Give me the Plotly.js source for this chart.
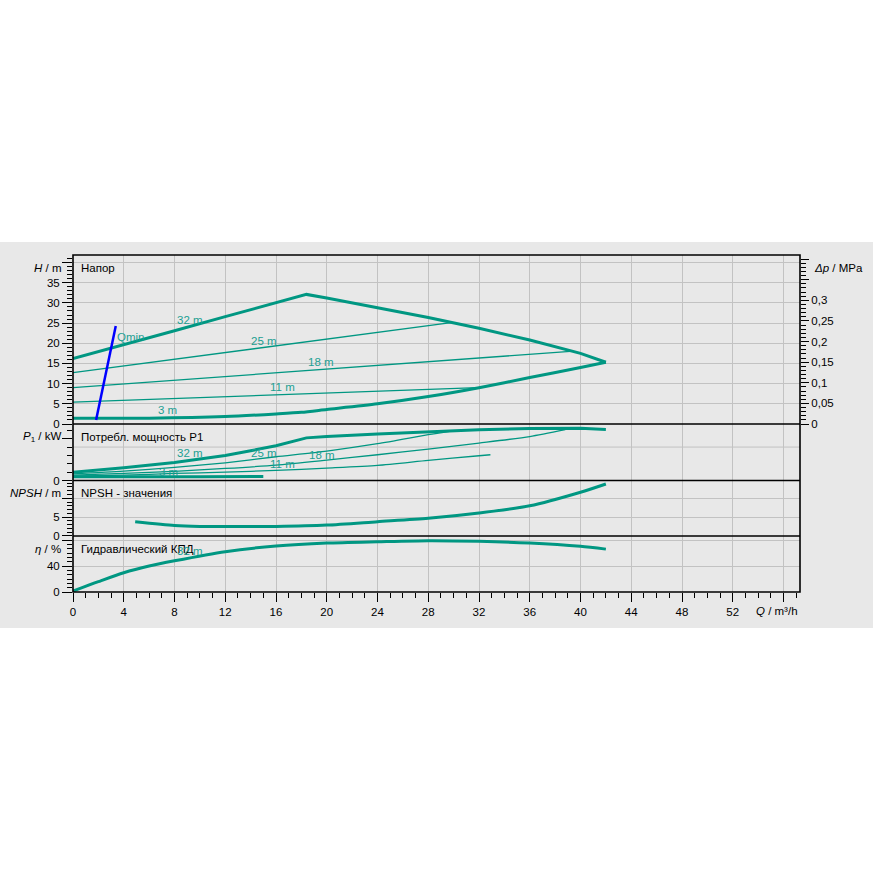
<!DOCTYPE html>
<html>
<head>
<meta charset="utf-8">
<script src="https://cdn.plot.ly/plotly-3.0.1.min.js"></script>
<style>
  html, body { margin: 0; padding: 0; background: #ffffff; }
  #chart { position: absolute; left: 0; top: 242px; width: 873px; height: 386px; }
</style>
</head>
<body>
<div id="chart"></div>
<script>
// ---------------- data ----------------
// Head curves H(Q), Q in m³/h, H in m
const Q_MAX = [0, 4, 8, 12, 16, 18.4, 20, 24, 28, 32, 36, 40, 42];
const H_MAX = [16.2, 19.6, 23.1, 26.6, 30.0, 32.1, 31.2, 28.8, 26.4, 23.7, 20.8, 17.5, 15.3];
const Q_25 = [0, 29.8];
const H_25 = [12.7, 25.1];
const Q_18 = [0, 39.2];
const H_18 = [9.0, 18.0];
const Q_11 = [0, 31.9];
const H_11 = [5.4, 9.0];
const Q_MIN = [0, 6, 12, 16, 18, 20, 24, 28, 32, 36, 40, 42];
const H_MIN = [1.4, 1.45, 1.85, 2.5, 2.9, 3.6, 5.0, 6.8, 9.0, 11.5, 14.0, 15.3];
const Q_QMIN = [1.82, 3.37];
const H_QMIN = [1.0, 24.3];

// Power input P1(Q), kW
const PQ_MAX = [0, 4, 8, 12, 14, 16, 18.4, 20, 24, 28, 32, 36, 40, 42];
const P_MAX = [0.50, 0.76, 1.08, 1.50, 1.78, 2.08, 2.55, 2.63, 2.78, 2.93, 3.04, 3.11, 3.12, 3.05];
const PQ_25 = [0, 4, 8, 12, 16, 20, 24, 28, 29.8];
const P_25 = [0.40, 0.56, 0.78, 1.06, 1.42, 1.76, 2.20, 2.74, 2.96];
const PQ_18 = [0, 4, 8, 12, 16, 20, 24, 28, 32, 36, 38.8];
const P_18 = [0.32, 0.42, 0.55, 0.72, 0.92, 1.22, 1.54, 1.88, 2.24, 2.63, 3.04];
const PQ_11 = [0, 4, 8, 12, 16, 20, 24, 28, 32, 32.9];
const P_11 = [0.26, 0.32, 0.42, 0.50, 0.60, 0.74, 0.90, 1.20, 1.48, 1.54];
const PQ_3 = [0, 5, 10, 15];
const P_3 = [0.22, 0.22, 0.23, 0.24];

// NPSH(Q), m
const NQ = [4.9, 8, 10, 12, 16, 20, 24, 28, 32, 36, 40, 42];
const NPSH = [3.8, 2.8, 2.55, 2.5, 2.55, 2.9, 3.8, 4.7, 6.1, 8.0, 11.6, 13.8];

// Hydraulic efficiency eta(Q), %
const EQ = [0, 2, 4, 6, 8, 12, 16, 20, 24, 28, 32, 36, 40, 42];
const ETA = [1.5, 16, 29.7, 40, 48, 62, 70.8, 75.4, 77.4, 79, 78, 75.4, 70.3, 66];

// Tick labels
const X_TICKS = [0, 4, 8, 12, 16, 20, 24, 28, 32, 36, 40, 44, 48, 52, 56];
const X_LABELS = ['0', '4', '8', '12', '16', '20', '24', '28', '32', '36', '40', '44', '48', '52', ''];
const H_TICKS = [0, 5, 10, 15, 20, 25, 30, 35, 40];
const H_LABELS = ['0', '5', '10', '15', '20', '25', '30', '35', ''];
const DP_TICKS = [0, 0.05, 0.1, 0.15, 0.2, 0.25, 0.3, 0.35, 0.4];
const DP_LABELS = ['0', '0,05', '0,1', '0,15', '0,2', '0,25', '0,3', '', ''];
const P_TICKS = [0, 2.5];
const P_LABELS = ['0', ''];
const N_TICKS = [0, 5, 10];
const N_LABELS = ['0', '5', ''];
const E_TICKS = [0, 40, 80];
const E_LABELS = ['0', '40', ''];

const CURVE_LABELS = ['32 m', '25 m', '18 m', '11 m', '3 m'];
const PANEL_TITLES = ['Напор', 'Потребл. мощность P1', 'NPSH - значения', 'Гидравлический КПД'];

// MPa per metre of head
const MPA_PER_M = 0.00979;

// ---------------- style ----------------
const TEAL = '#009782';
const LABEL_TEAL = '#1c9f92';
const GRID = '#c2c2c2';
const BG = '#e8e8e8';
const FONT = 'Liberation Sans, Arial, sans-serif';

const H_RANGE = [0, 41.86];
const D = { eta: [0, 0.1662], npsh: [0.1662, 0.3309], p: [0.3309, 0.4985], h: [0.4985, 1] };

function line(x, y, yaxis, width, color, smooth) {
  const ln = { color: color || TEAL, width: width };
  if (smooth) { ln.shape = 'spline'; ln.smoothing = 0.7; }
  return { x: x, y: y, xaxis: 'x', yaxis: yaxis, type: 'scatter', mode: 'lines',
           line: ln, hoverinfo: 'skip', showlegend: false };
}

const traces = [
  line(Q_25, H_25, 'y', 1.3),
  line(Q_18, H_18, 'y', 1.3),
  line(Q_11, H_11, 'y', 1.3),
  line(Q_MAX, H_MAX, 'y', 3),
  line(Q_MIN, H_MIN, 'y', 3, null, true),
  line(Q_QMIN, H_QMIN, 'y', 2.5, '#0000ff'),
  line(PQ_25, P_25, 'y2', 1.3, null, true),
  line(PQ_18, P_18, 'y2', 1.3, null, true),
  line(PQ_11, P_11, 'y2', 1.3, null, true),
  line(PQ_MAX, P_MAX, 'y2', 3),
  line(PQ_3, P_3, 'y2', 3, null, true),
  line(NQ, NPSH, 'y3', 3, null, true),
  line(EQ, ETA, 'y4', 3, null, true),
  // invisible twin of the head curve on the pressure axis (keeps the right axis alive)
  Object.assign(line(Q_MAX, H_MAX.map(v => v * MPA_PER_M), 'y5', 1), { opacity: 0 })
];

const tickCommon = {
  ticks: 'outside', tickcolor: '#000', tickwidth: 1, showline: false, zeroline: false,
  tickmode: 'array', tickfont: { family: FONT, size: 11.5, color: '#000' }, gridcolor: GRID, gridwidth: 1
};

function yax(domain, range, tv, tt, minorDtick, grid) {
  return Object.assign({}, tickCommon, {
    domain: domain, range: range, anchor: 'x', tickvals: tv, ticktext: tt, ticklen: 10,
    showgrid: grid, fixedrange: true,
    minor: { dtick: minorDtick, tick0: 0, ticklen: 5, tickcolor: '#000', tickwidth: 1, showgrid: false, ticks: 'outside' }
  });
}

function ann(text, x, y, xref, yref, opts) {
  return Object.assign({ text: text, x: x, y: y, xref: xref, yref: yref, showarrow: false,
    xanchor: 'center', yanchor: 'middle', font: { family: FONT, size: 11.5, color: LABEL_TEAL } }, opts || {});
}

const blackFont = { family: FONT, size: 11.5, color: '#000' };

const annotations = [
  // curve labels, head panel
  ann(CURVE_LABELS[0], 9.23, 25.8, 'x', 'y'),
  ann(CURVE_LABELS[1], 15.07, 20.6, 'x', 'y'),
  ann(CURVE_LABELS[2], 19.57, 15.4, 'x', 'y'),
  ann(CURVE_LABELS[3], 16.5, 9.2, 'x', 'y'),
  ann(CURVE_LABELS[4], 7.42, 3.5, 'x', 'y'),
  ann('Qmin', 4.5, 21.6, 'x', 'y'),
  // curve labels, power panel
  ann(CURVE_LABELS[0], 9.23, 1.62, 'x', 'y2'),
  ann(CURVE_LABELS[1], 15.04, 1.64, 'x', 'y2'),
  ann(CURVE_LABELS[2], 19.65, 1.52, 'x', 'y2'),
  ann(CURVE_LABELS[3], 16.5, 0.96, 'x', 'y2'),
  ann(CURVE_LABELS[4], 7.5, 0.52, 'x', 'y2'),
  // panel titles
  ann(PANEL_TITLES[0], 0.0083, 0.9614, 'paper', 'paper', { xanchor: 'left', font: blackFont }),
  ann(PANEL_TITLES[1], 0.0083, 0.4600, 'paper', 'paper', { xanchor: 'left', font: blackFont }),
  ann(PANEL_TITLES[2], 0.0083, 0.2938, 'paper', 'paper', { xanchor: 'left', font: blackFont }),
  ann(PANEL_TITLES[3], 0.0083, 0.1276, 'paper', 'paper', { xanchor: 'left', font: blackFont }),
  // efficiency curve label (drawn over the title, as in the original)
  ann(CURVE_LABELS[0], 9.23, 63.5, 'x', 'y4'),
  // axis titles
  ann('<i>H</i> / m', -0.0138, 0.9614, 'paper', 'paper', { xanchor: 'right', font: blackFont }),
  ann('<i>P</i><sub>1</sub> / kW', -0.0138, 0.4600, 'paper', 'paper', { xanchor: 'right', font: blackFont }),
  ann('<i>NPSH</i> / m', -0.0138, 0.2938, 'paper', 'paper', { xanchor: 'right', font: blackFont }),
  ann('<i>η</i> / %', -0.0138, 0.1276, 'paper', 'paper', { xanchor: 'right', font: blackFont }),
  ann('<i>Δp</i> / MPa', 1.0160, 0.9614, 'paper', 'paper', { xanchor: 'left', font: blackFont }),
  ann('<i>Q</i> / m³/h', 1.0, -0.0564, 'paper', 'paper', { xanchor: 'right', font: blackFont })
];

const shapes = [
  // extra grid line in the power panel
  { type: 'line', xref: 'paper', yref: 'y2', x0: 0, x1: 1, y0: 2, y1: 2, line: { color: GRID, width: 1 }, layer: 'below' },
  // frame and panel separators
  { type: 'rect', xref: 'paper', yref: 'paper', x0: 0, x1: 1, y0: 0, y1: 1, line: { color: '#000', width: 1.6 } },
  { type: 'line', xref: 'paper', yref: 'paper', x0: 0, x1: 1, y0: D.eta[1], y1: D.eta[1], line: { color: '#000', width: 1.6 } },
  { type: 'line', xref: 'paper', yref: 'paper', x0: 0, x1: 1, y0: D.npsh[1], y1: D.npsh[1], line: { color: '#000', width: 1.6 } },
  { type: 'line', xref: 'paper', yref: 'paper', x0: 0, x1: 1, y0: D.p[1], y1: D.p[1], line: { color: '#000', width: 1.6 } }
];

const layout = {
  width: 873, height: 386,
  margin: { l: 73, r: 73, t: 13, b: 36, pad: 0 },
  paper_bgcolor: BG, plot_bgcolor: BG,
  showlegend: false,
  font: { family: FONT, size: 11.5, color: '#000' },
  xaxis: Object.assign({}, tickCommon, {
    range: [0, 57.3], anchor: 'y4', tickvals: X_TICKS, ticktext: X_LABELS, ticklen: 9, showgrid: true, fixedrange: true,
    minor: { dtick: 1, tick0: 0, ticklen: 5, tickcolor: '#000', tickwidth: 1, showgrid: false, ticks: 'outside' }
  }),
  yaxis: yax(D.h, H_RANGE, H_TICKS, H_LABELS, 1, true),
  yaxis2: yax(D.p, [0, 3.38], P_TICKS, P_LABELS, 0.5, false),
  yaxis3: yax(D.npsh, [0, 14.72], N_TICKS, N_LABELS, 1, true),
  yaxis4: yax(D.eta, [0, 86.2], E_TICKS, E_LABELS, 20 / 3, true),
  yaxis5: Object.assign({}, tickCommon, {
    overlaying: 'y', side: 'right', anchor: 'x', range: [H_RANGE[0] * MPA_PER_M, H_RANGE[1] * MPA_PER_M],
    tickvals: DP_TICKS, ticktext: DP_LABELS, ticklen: 8, showgrid: false, fixedrange: true,
    minor: { dtick: 0.01, tick0: 0, ticklen: 5, tickcolor: '#000', tickwidth: 1, showgrid: false, ticks: 'outside' }
  }),
  annotations: annotations,
  shapes: shapes
};

Plotly.newPlot('chart', traces, layout, { staticPlot: true, displayModeBar: false });
</script>
</body>
</html>
